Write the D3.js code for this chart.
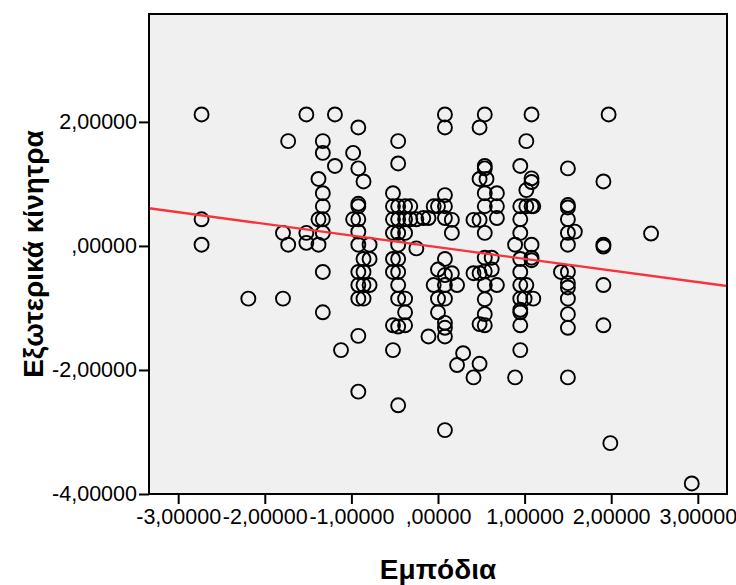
<!DOCTYPE html>
<html>
<head>
<meta charset="utf-8">
<script src="https://cdn.jsdelivr.net/npm/d3@7"></script>
<style>
  body { margin: 0; background: #fff; }
  text { font-family: "Liberation Sans", Arial, sans-serif; }
</style>
</head>
<body>
<svg id="chart" width="736" height="585"></svg>
<script>
// Εμπόδια (x) / Εξωτερικά κίνητρα (y), standardised scores, one entry per respondent
var empodia = [
  -2.73, -2.73, -2.73,
  -2.19,
  -1.79, -1.79,
  -1.73, -1.73,
  -1.52, -1.52, -1.52,
  -1.38, -1.38, -1.38,
  -1.33, -1.33, -1.33, -1.33, -1.33, -1.33, -1.33, -1.33,
  -1.19, -1.19,
  -1.12,
  -0.98, -0.98,
  -0.92, -0.92, -0.92, -0.92, -0.92, -0.92, -0.92, -0.92, -0.92, -0.92, -0.92, -0.92,
  -0.86, -0.86, -0.86, -0.86, -0.86,
  -0.79, -0.79, -0.79,
  -0.52, -0.52, -0.52, -0.52, -0.52, -0.52, -0.52, -0.52,
  -0.46, -0.46, -0.46, -0.46, -0.46, -0.46, -0.46, -0.46, -0.46, -0.46, -0.46, -0.46,
  -0.38, -0.38, -0.38, -0.38, -0.38, -0.38,
  -0.32, -0.32,
  -0.25, -0.25,
  -0.17,
  -0.11, -0.11,
  -0.05, -0.05,
  0.00, 0.00, 0.00, 0.00,
  0.08, 0.08, 0.08, 0.08, 0.08, 0.08, 0.08, 0.08, 0.08, 0.08, 0.08, 0.08, 0.08,
  0.16, 0.16, 0.16,
  0.22, 0.22,
  0.29,
  0.41, 0.41, 0.41,
  0.48, 0.48, 0.48, 0.48, 0.48, 0.48,
  0.54, 0.54, 0.54, 0.54, 0.54, 0.54, 0.54, 0.54, 0.54, 0.54, 0.54, 0.54,
  0.56,
  0.62, 0.62,
  0.68, 0.68, 0.68, 0.68,
  0.89, 0.89,
  0.95, 0.95, 0.95, 0.95, 0.95, 0.95, 0.95, 0.95, 0.95, 0.95, 0.95, 0.95,
  1.00,
  1.02, 1.02, 1.02, 1.02,
  1.08, 1.08, 1.08, 1.08, 1.08, 1.08, 1.08,
  1.10, 1.10,
  1.42,
  1.50, 1.50, 1.50, 1.50, 1.50, 1.50, 1.50, 1.50, 1.50, 1.50, 1.50, 1.50, 1.50,
  1.58,
  1.91, 1.91, 1.91, 1.91, 1.91,
  1.97,
  1.99,
  2.46,
  2.93
];

var kinitra = [
  2.12, 0.43, 0.02,
  -0.85,
  0.21, -0.85,
  1.69, 0.02,
  2.12, 0.21, 0.05,
  1.08, 0.43, 0.02,
  1.69, 1.50, 0.85, 0.64, 0.43, 0.21, -0.42, -1.07,
  2.12, 1.29,
  -1.68,
  1.50, 0.43,
  1.91, 1.25, 0.68, 0.64, 0.43, 0.23, 0.02, -0.42, -0.63, -0.85, -1.45, -2.35,
  1.04, -0.21, -0.42, -0.63, -0.85,
  0.02, -0.21, -0.63,
  0.85, 0.64, 0.43, 0.21, -0.21, -0.42, -1.28, -1.68,
  1.69, 1.33, 0.64, 0.43, 0.21, 0.02, -0.21, -0.42, -0.63, -0.85, -1.30, -2.57,
  0.64, 0.43, 0.21, -0.85, -1.07, -1.28,
  0.64, 0.43,
  0.43, -0.04,
  0.45,
  0.45, -1.46,
  0.64, -0.63,
  0.64, -0.38, -0.85, -1.07,
  2.12, 1.91, 0.82, 0.64, 0.45, -0.21, -0.47, -0.63, -0.85, -1.24, -1.32, -1.46, -2.97,
  0.42, 0.21, -0.44,
  -0.63, -1.92,
  -1.73,
  0.42, -0.44, -2.12,
  1.91, 1.08, 0.42, -0.44, -1.26, -1.90,
  2.12, 1.29, 1.25, 0.85, 0.64, 0.21, -0.19, -0.41, -0.63, -0.86, -1.10, -1.28,
  1.08,
  -0.19, -0.38,
  0.85, 0.64, 0.45, -0.63,
  0.02, -2.12,
  1.29, 0.64, 0.43, 0.21, -0.21, -0.42, -0.63, -0.85, -1.03, -1.07, -1.28, -1.68,
  -0.85,
  1.69, 0.90, 0.64, -0.63,
  2.12, 1.09, 1.03, 0.64, 0.02, -0.19, -0.23,
  0.64, -0.85,
  -0.42,
  1.25, 0.66, 0.62, 0.43, 0.21, 0.02, -0.42, -0.60, -0.67, -0.85, -1.10, -1.32, -2.12,
  0.23,
  1.04, 0.02, -0.01, -0.63, -1.28,
  2.12,
  -3.18,
  0.20,
  -3.83
];

// fit line
var fitIntercept = -0.02;
var fitSlope = -0.188;

var xTicks = [-3, -2, -1, 0, 1, 2, 3];
var xTickLabels = ["-3,00000", "-2,00000", "-1,00000", ",00000", "1,00000", "2,00000", "3,00000"];
var yTicks = [-4, -2, 0, 2];
var yTickLabels = ["-4,00000", "-2,00000", ",00000", "2,00000"];

var svg = d3.select("#chart");

var plotLeft = 149, plotRight = 727, plotTop = 14, plotBottom = 494;

var x = d3.scaleLinear().domain([-3.337, 3.337]).range([plotLeft, plotRight]);
var y = d3.scaleLinear().domain([-4, 3.74]).range([plotBottom, plotTop]);

svg.append("defs").append("clipPath").attr("id", "plotclip")
  .append("rect")
  .attr("x", plotLeft).attr("y", plotTop)
  .attr("width", plotRight - plotLeft).attr("height", plotBottom - plotTop);

svg.append("rect")
  .attr("x", plotLeft).attr("y", plotTop)
  .attr("width", plotRight - plotLeft).attr("height", plotBottom - plotTop)
  .attr("fill", "#f0f0f0");

var pts = empodia.map(function (d, i) { return { x: d, y: kinitra[i] }; });

svg.append("g")
  .attr("clip-path", "url(#plotclip)")
  .selectAll("circle")
  .data(pts)
  .enter()
  .append("circle")
  .attr("cx", function (d) { return x(d.x); })
  .attr("cy", function (d) { return y(d.y); })
  .attr("r", 7)
  .attr("fill", "none")
  .attr("stroke", "#000")
  .attr("stroke-width", 1.9);

var xd = x.domain();
svg.append("line")
  .attr("clip-path", "url(#plotclip)")
  .attr("x1", x(xd[0])).attr("y1", y(fitIntercept + fitSlope * xd[0]))
  .attr("x2", x(xd[1])).attr("y2", y(fitIntercept + fitSlope * xd[1]))
  .attr("stroke", "#f8333c")
  .attr("stroke-width", 2.4);

// frame
svg.append("rect")
  .attr("x", plotLeft).attr("y", plotTop)
  .attr("width", plotRight - plotLeft).attr("height", plotBottom - plotTop)
  .attr("fill", "none")
  .attr("stroke", "#000")
  .attr("stroke-width", 2);

var xAxis = svg.append("g")
  .attr("transform", "translate(0," + plotBottom + ")")
  .call(d3.axisBottom(x).tickValues(xTicks).tickSize(10).tickPadding(5)
    .tickFormat(function (d, i) { return xTickLabels[i]; }));

var yAxis = svg.append("g")
  .attr("transform", "translate(" + plotLeft + ",0)")
  .call(d3.axisLeft(y).tickValues(yTicks).tickSize(10).tickPadding(2)
    .tickFormat(function (d, i) { return yTickLabels[i]; }));

[xAxis, yAxis].forEach(function (g) {
  g.select(".domain").remove();
  g.selectAll(".tick line").attr("stroke", "#000").attr("stroke-width", 2);
  g.selectAll(".tick text")
    .attr("fill", "#000")
    .style("font-family", "'Liberation Sans', Arial, sans-serif")
    .style("font-size", "21.5px");
});

svg.append("text")
  .attr("x", (plotLeft + plotRight) / 2)
  .attr("y", 579)
  .attr("text-anchor", "middle")
  .style("font-size", "28px")
  .style("font-weight", "bold")
  .text("Εμπόδια");

svg.append("text")
  .attr("transform", "translate(43," + ((plotTop + plotBottom) / 2) + ") rotate(-90)")
  .attr("text-anchor", "middle")
  .style("font-size", "28px")
  .style("font-weight", "bold")
  .text("Εξωτερικά κίνητρα");
</script>
</body>
</html>
